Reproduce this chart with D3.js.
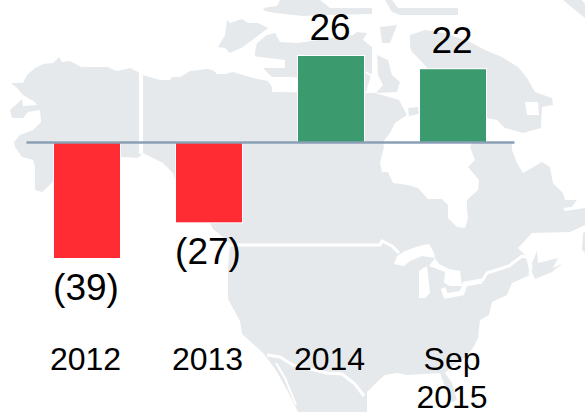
<!DOCTYPE html>
<html>
<head>
<meta charset="utf-8">
<script src="https://cdn.jsdelivr.net/npm/d3@7"></script>
<style>
  html, body { margin: 0; padding: 0; background: #fff; }
  text { font-family: "Liberation Sans", Arial, sans-serif; fill: #000; }
</style>
</head>
<body>
<div id="chart"></div>
<script>
const categories = ["2012", "2013", "2014", "Sep 2015"];
const values = [-39, -27, 26, 22];
const valueLabels = ["(39)", "(27)", "26", "22"];

const width = 585;
const height = 412;
const landColor = "#e6e9ec";

// Backdrop outlines (pixels), not data
const mainland = [[11,83],[23,83],[27,75],[35,68],[43,64],[53,63],[59,57],[62,62],[70,61],[81,67],[107,67],[117,71],[130,68],[138,72],[143,75],[160,80],[170,80],[172,77],[180,77],[190,71],[207,69],[213,70],[217,74],[225,74],[233,72],[253,78],[268,81],[272,87],[272,92],[375,93],[399,100],[407,115],[395,123],[390,133],[383,142],[384,147],[380,163],[382,172],[388,172],[393,183],[408,185],[418,188],[428,199],[442,199],[448,205],[448,218],[457,227],[465,228],[468,218],[467,210],[467,200],[478,190],[479,180],[468,167],[475,160],[470,147],[472,142],[512,142],[512,150],[517,163],[523,173],[542,162],[550,167],[553,183],[563,193],[565,200],[577,200],[572,207],[563,208],[565,211],[585,208],[585,225],[570,232],[532,233],[518,248],[526,256],[530,275],[512,283],[507,295],[492,302],[489,315],[480,320],[478,338],[473,348],[462,360],[450,368],[445,373],[452,383],[457,400],[452,402],[446,390],[440,373],[407,375],[397,373],[385,375],[377,382],[367,392],[367,412],[298,412],[287,390],[277,372],[267,358],[263,353],[242,334],[240,321],[228,299],[228,269],[230,243],[213,229],[208,219],[175,180],[173,173],[163,163],[143,153],[138,158],[122,157],[60,167],[52,183],[42,192],[35,190],[35,167],[33,160],[22,157],[15,147],[14,142],[20,135],[33,130],[41,122],[40,110],[28,112],[23,118],[12,118],[10,110],[22,99],[23,106],[37,105],[35,102],[23,95],[17,88]];
const victoriaIsland = [[227,20],[230,23],[242,19],[248,23],[258,23],[268,28],[255,38],[243,47],[230,53],[225,48],[218,47],[225,35]];
const midIsland = [[255,52],[257,43],[267,35],[275,33],[280,42],[297,43],[353,35],[357,32],[367,33],[363,40],[372,47],[372,72],[366,92],[293,77],[272,77],[263,68],[263,58],[255,56]];
const topIslands = [[280,0],[320,0],[330,8],[372,8],[372,14],[325,15],[303,16],[275,13],[265,11],[263,8],[277,6]];
const topStrip = [[385,0],[392,0],[398,8],[458,8],[458,15],[400,15],[392,12]];
const cornerIsland = [[563,0],[582,0],[585,4],[585,18],[575,10]];
const smallIsland = [[380,27],[397,25],[390,43],[382,43]];
const melville = [[377,55],[388,60],[392,75],[400,82],[397,92],[376,93],[383,85],[378,75]];
const baffin = [[410,47],[410,35],[425,30],[445,33],[470,42],[485,50],[502,57],[518,67],[527,78],[535,92],[552,98],[553,105],[542,107],[541,128],[523,133],[505,128],[497,120],[487,118],[430,118],[430,71],[420,60],[412,52]];
const blobIsland = [[408,108],[418,107],[419,114],[409,116]];
const newBrunswick = [[537,251],[538,263],[558,258],[553,268],[563,263],[552,272],[535,279],[530,268]];
const newfoundland = [[583,233],[585,232],[585,253],[582,250]];

const whiteLake = [[525,102],[538,102],[539,115],[527,115]];
const superior = [[394,264],[397,256],[405,251],[419,246],[429,244],[434,253],[435,258],[422,256],[410,261],[404,266]];
const michigan = [[419,271],[427,266],[430,293],[425,298],[419,298]];
const huron = [[429,266],[435,258],[439,264],[449,269],[460,271],[462,286],[450,286],[444,283],[445,272]];
const innerBand = [[260,57],[285,60],[285,68],[263,68]];

const borderLines = [
  { w: 4, pts: [[141,66],[141,154]] },
  { w: 3, pts: [[226,245],[380,245],[382,241],[392,246],[399,253]] },
  { w: 3, pts: [[267,355],[280,357],[293,365],[327,373],[342,374],[355,384],[364,396]] },
  { w: 3, pts: [[530,275],[531,266],[527,257],[522,256],[509,266],[487,273],[482,281]] },
  { w: 5, pts: [[482,281],[465,284],[462,293],[446,296],[443,288]] },
  { w: 2, pts: [[276,363],[285,378],[296,405]] },
  { w: 2, pts: [[366,72],[374,78]] }
];

const svg = d3.select("#chart").append("svg")
  .attr("width", width)
  .attr("height", height)
  .style("display", "block");

const outline = d3.line();

// Map backdrop
const map = svg.append("g");
map.selectAll(".land")
  .data([mainland, victoriaIsland, midIsland, topIslands, topStrip, cornerIsland, smallIsland, melville, baffin, blobIsland, newBrunswick, newfoundland])
  .enter()
  .append("path")
  .attr("class", "land")
  .attr("d", d => outline(d) + "Z")
  .attr("fill", landColor);

map.selectAll(".water")
  .data([whiteLake, superior, michigan, huron, innerBand])
  .enter()
  .append("path")
  .attr("class", "water")
  .attr("d", d => outline(d) + "Z")
  .attr("fill", "#fff");

map.selectAll(".border")
  .data(borderLines)
  .enter()
  .append("path")
  .attr("class", "border")
  .attr("d", d => outline(d.pts))
  .attr("fill", "none")
  .attr("stroke", "#fff")
  .attr("stroke-width", d => d.w);

const xScale = d3.scaleBand()
  .domain(categories)
  .range([26, 514])
  .paddingInner(0.459)
  .paddingOuter(0.2295);

// The original draws its gains a bit taller per unit than its losses, so
// the two sides of the zero line get their own slope
const yScale = d3.scaleLinear()
  .domain([-39, 0, 26])
  .range([258, 142, 56]);

const rows = categories.map((c, i) => ({ category: c, value: values[i], label: valueLabels[i] }));

// Bars
svg.selectAll(".bar")
  .data(rows)
  .enter()
  .append("rect")
  .attr("class", "bar")
  .attr("x", d => xScale(d.category))
  .attr("y", d => Math.min(yScale(d.value), yScale(0)))
  .attr("width", xScale.bandwidth())
  .attr("height", d => Math.abs(yScale(d.value) - yScale(0)))
  .attr("fill", d => d.value < 0 ? "#ff2d33" : "#3b9b6f")
  .attr("stroke", "#fff")
  .attr("stroke-width", 2)
  .attr("paint-order", "stroke");

// Value labels
svg.selectAll(".value-label")
  .data(rows)
  .enter()
  .append("text")
  .attr("class", "value-label")
  .attr("x", d => xScale(d.category) + xScale.bandwidth() / 2 - 1)
  .attr("y", d => d.value < 0 ? yScale(d.value) + 42 : yScale(d.value) - 16)
  .attr("text-anchor", "middle")
  .attr("font-size", "37px")
  .text(d => d.label);

// Axis line at zero with category labels underneath
const axis = svg.append("g")
  .attr("transform", `translate(0,${yScale(0)})`)
  .call(d3.axisBottom(xScale).tickSize(0).tickSizeOuter(0));

axis.select(".domain")
  .attr("stroke", "#8a9fb5")
  .attr("stroke-width", 2.5);

axis.selectAll(".tick text")
  .attr("font-size", "32px")
  .attr("font-family", null)
  .attr("fill", "#000")
  .attr("dy", null)
  .attr("y", 228)
  .attr("x", -1.5)
  .each(function(d) {
    const words = d.split(" ");
    if (words.length < 2) return;
    const label = d3.select(this).text(null);
    words.forEach((w, i) => {
      label.append("tspan")
        .attr("x", -1)
        .attr("dy", i === 0 ? 0 : 38)
        .text(w);
    });
  });
</script>
</body>
</html>
